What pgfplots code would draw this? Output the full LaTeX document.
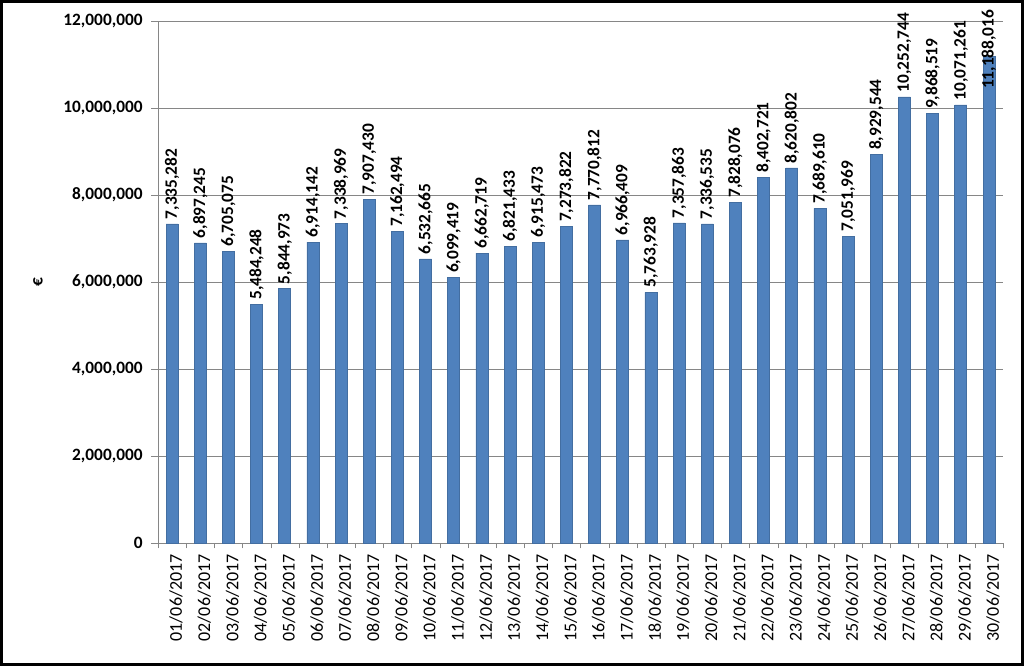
\documentclass[border=0pt]{standalone}
\usepackage{pgfplots}
\pgfplotsset{compat=1.18}
\usepackage{pgfplotstable}
\usepackage{fontspec}
\setmainfont{Carlito}

\definecolor{barblue}{HTML}{4F81BD}
\definecolor{gridgray}{HTML}{868686}

\pgfplotstableread{
x y label date
0 7335282 7,335,282 01/06/2017
1 6897245 6,897,245 02/06/2017
2 6705075 6,705,075 03/06/2017
3 5484248 5,484,248 04/06/2017
4 5844973 5,844,973 05/06/2017
5 6914142 6,914,142 06/06/2017
6 7338969 7,338,969 07/06/2017
7 7907430 7,907,430 08/06/2017
8 7162494 7,162,494 09/06/2017
9 6532665 6,532,665 10/06/2017
10 6099419 6,099,419 11/06/2017
11 6662719 6,662,719 12/06/2017
12 6821433 6,821,433 13/06/2017
13 6915473 6,915,473 14/06/2017
14 7273822 7,273,822 15/06/2017
15 7770812 7,770,812 16/06/2017
16 6966409 6,966,409 17/06/2017
17 5763928 5,763,928 18/06/2017
18 7357863 7,357,863 19/06/2017
19 7336535 7,336,535 20/06/2017
20 7828076 7,828,076 21/06/2017
21 8402721 8,402,721 22/06/2017
22 8620802 8,620,802 23/06/2017
23 7689610 7,689,610 24/06/2017
24 7051969 7,051,969 25/06/2017
25 8929544 8,929,544 26/06/2017
26 10252744 10,252,744 27/06/2017
27 9868519 9,868,519 28/06/2017
28 10071261 10,071,261 29/06/2017
}\sales

% the last day: Excel pulls its label down into the bar
\pgfplotstableread{
x y label date
29 11188016 11,188,016 30/06/2017
}\lastday

\begin{document}
\begin{tikzpicture}
\useasboundingbox (0,0) rectangle (768pt,499.5pt);
\begin{axis}[
  at={(118.5pt,92.25pt)}, anchor=south west,
  scale only axis,
  width=633.75pt, height=391.5pt,
  ybar, bar width=9pt, bar shift=0pt,
  xmin=-0.5, xmax=29.5,
  ymin=0, ymax=12000000,
  ytick distance=2000000,
  scaled y ticks=false,
  yticklabel style={/pgf/number format/fixed, /pgf/number format/1000 sep={,},
    font=\bfseries\fontsize{13}{15}\selectfont, xshift=-3pt},
  /pgf/number format/assume math mode=true,
  xtick={0,...,29},
  xticklabels={01/06/2017,02/06/2017,03/06/2017,04/06/2017,05/06/2017,
    06/06/2017,07/06/2017,08/06/2017,09/06/2017,10/06/2017,
    11/06/2017,12/06/2017,13/06/2017,14/06/2017,15/06/2017,
    16/06/2017,17/06/2017,18/06/2017,19/06/2017,20/06/2017,
    21/06/2017,22/06/2017,23/06/2017,24/06/2017,25/06/2017,
    26/06/2017,27/06/2017,28/06/2017,29/06/2017,30/06/2017},
  xticklabel style={rotate=90, anchor=east, font=\fontsize{13.5}{15}\selectfont, yshift=-3pt},
  minor xtick={-0.5,0.5,...,29.5},
  axis x line*=bottom, axis y line*=left,
  axis line style={gridgray, -},
  tick style={gridgray},
  major tick length=5pt,
  minor tick length=4pt,
  major x tick style={draw=none},
  tick align=outside,
  ymajorgrids, grid style={gridgray, line width=0.6pt},
  clip=false,
  point meta=explicit symbolic,
  nodes near coords,
  every node near coord/.append style={rotate=90, anchor=west, black,
    font=\bfseries\fontsize{13}{15}\selectfont},
]
\addplot[fill=barblue, draw=barblue!85!black] table[x=x, y=y, meta=label] {\sales};
\addplot[fill=barblue, draw=barblue!85!black,
  every node near coord/.append style={xshift=-28pt}] table[x=x, y=y, meta=label] {\lastday};
\end{axis}
\node[rotate=90, font=\bfseries\fontsize{13}{15}\selectfont] at (28.5pt,288pt) {€};
\draw[line width=2pt] (1pt,1pt) rectangle (767pt,498.5pt);
\end{tikzpicture}
\end{document}
